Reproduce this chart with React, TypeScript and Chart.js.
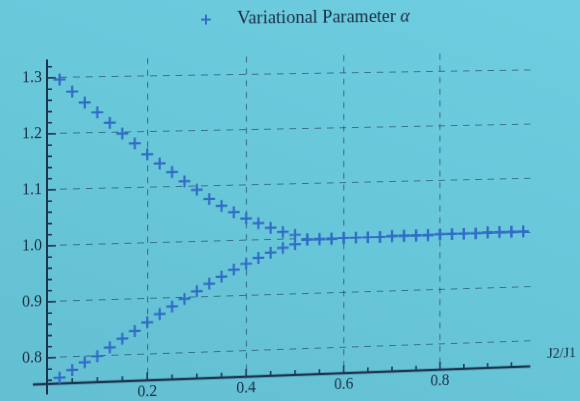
import { useEffect, useRef } from "react";
import { Chart, registerables } from "chart.js";

Chart.register(...registerables);

// Coupling ratio J2/J1 at which the variational energy was minimised
const couplingRatio = [
  0.025, 0.05, 0.075, 0.1, 0.125, 0.15, 0.175, 0.2, 0.225, 0.25,
  0.275, 0.3, 0.325, 0.35, 0.375, 0.4, 0.425, 0.45, 0.475, 0.5,
  0.525, 0.55, 0.575, 0.6, 0.625, 0.65, 0.675, 0.7, 0.725, 0.75,
  0.775, 0.8, 0.825, 0.85, 0.875, 0.9, 0.925, 0.95, 0.975,
];

// Two solutions for alpha below the merge point (first 20 ratios)
const upperBranch = [
  1.297, 1.275, 1.255, 1.237, 1.218, 1.198, 1.18, 1.16, 1.143, 1.127,
  1.11, 1.094, 1.077, 1.064, 1.052, 1.04, 1.031, 1.022, 1.014, 1.008,
];
const lowerBranch = [
  0.764, 0.777, 0.79, 0.8, 0.815, 0.83, 0.843, 0.858, 0.872, 0.885,
  0.898, 0.911, 0.924, 0.936, 0.948, 0.958, 0.968, 0.977, 0.985, 0.991,
];
// Single solution once the branches meet (remaining 19 ratios)
const mergedBranch = [
  0.999, 0.999, 0.999, 1.0, 1.0, 1.0, 1.0, 1.001, 1.001, 1.001,
  1.001, 1.002, 1.002, 1.002, 1.002, 1.003, 1.003, 1.003, 1.003,
];

const xTickValues = [0.2, 0.4, 0.6, 0.8];
const yTickValues = [0.8, 0.9, 1.0, 1.1, 1.2, 1.3];

const seriesName = "Variational Parameter ";
const seriesSymbol = "α";
const xAxisTitle = "J2/J1";

const X_MIN = 0;
const X_MAX = 0.99;
const Y_MIN = 0.7536;
const Y_MAX = 1.333;

const MARK_COLOR = "#2f6cc6";
const AXIS_COLOR = "#1c3550";
const TEXT_COLOR = "#172c40";
const GRID_COLOR = "rgba(28, 58, 84, 0.62)";
const SERIF = "'Liberation Serif', 'DejaVu Serif', serif";

function buildPoints() {
  const pts: { x: number; y: number }[] = [];
  couplingRatio.forEach((r, i) => {
    if (i < upperBranch.length) {
      pts.push({ x: r, y: upperBranch[i] });
      pts.push({ x: r, y: lowerBranch[i] });
    } else {
      const v = mergedBranch[i - upperBranch.length];
      pts.push({ x: r, y: v });
      pts.push({ x: r, y: v });
    }
  });
  return pts;
}

// Mathematica-style axes: crossing lines with inward major/minor ticks
const crossedAxes = {
  id: "crossedAxes",
  beforeDatasetsDraw(chart: any) {
    const { ctx } = chart;
    const xs = chart.scales.x;
    const ys = chart.scales.y;
    const x0 = xs.getPixelForValue(0);
    const yBase = ys.getPixelForValue(Y_MIN);
    ctx.save();
    ctx.strokeStyle = AXIS_COLOR;
    ctx.lineCap = "butt";

    ctx.lineWidth = 2.6;
    ctx.beginPath();
    ctx.moveTo(xs.getPixelForValue(-0.028), yBase);
    ctx.lineTo(xs.getPixelForValue(X_MAX), yBase);
    ctx.stroke();

    ctx.lineWidth = 2;
    ctx.beginPath();
    ctx.moveTo(x0, ys.getPixelForValue(0.735));
    ctx.lineTo(x0, ys.getPixelForValue(Y_MAX));
    ctx.stroke();

    ctx.lineWidth = 1.6;
    ctx.beginPath();
    for (let k = 1; k * 0.05 < X_MAX; k++) {
      const px = xs.getPixelForValue(k * 0.05);
      const len = k % 4 === 0 ? 8 : 5;
      ctx.moveTo(px, yBase);
      ctx.lineTo(px, yBase - len);
    }
    for (let k = 38; k <= 66; k++) {
      const py = ys.getPixelForValue(k * 0.02);
      const len = k % 5 === 0 ? 9 : 5;
      ctx.moveTo(x0, py);
      ctx.lineTo(x0 + len, py);
    }
    ctx.stroke();
    ctx.restore();
  },
  afterDraw(chart: any) {
    const { ctx } = chart;
    ctx.save();
    // legend entry
    ctx.strokeStyle = MARK_COLOR;
    ctx.lineWidth = 2;
    ctx.beginPath();
    ctx.moveTo(203, 21.5);
    ctx.lineTo(213, 21.5);
    ctx.moveTo(208, 16.5);
    ctx.lineTo(208, 26.5);
    ctx.stroke();

    ctx.fillStyle = TEXT_COLOR;
    ctx.textBaseline = "middle";
    ctx.textAlign = "left";
    ctx.font = `19px ${SERIF}`;
    ctx.fillText(seriesName, 240, 21);
    const w = ctx.measureText(seriesName).width;
    ctx.font = `italic 19px ${SERIF}`;
    ctx.fillText(seriesSymbol, 240 + w, 21);

    // axis title at the end of the horizontal axis
    ctx.font = `15px ${SERIF}`;
    ctx.fillText(xAxisTitle, 566, 372);
    ctx.restore();
  },
};

export default function App() {
  const canvasRef = useRef<HTMLCanvasElement>(null);

  useEffect(() => {
    const canvas = canvasRef.current;
    if (!canvas) return;
    const chart = new Chart(canvas, {
      type: "scatter",
      data: {
        datasets: [
          {
            label: seriesName + seriesSymbol,
            data: buildPoints(),
            pointStyle: "cross",
            pointRadius: 6,
            pointBorderWidth: 2.2,
            borderColor: MARK_COLOR,
            backgroundColor: MARK_COLOR,
            clip: false as any,
          },
        ],
      },
      options: {
        animation: false,
        responsive: false,
        devicePixelRatio: 1,
        layout: { padding: { top: 59.5, right: 72.3, bottom: 0, left: 0 } },
        plugins: {
          legend: { display: false },
          tooltip: { enabled: false },
        },
        scales: {
          x: {
            type: "linear",
            min: X_MIN,
            max: X_MAX,
            afterBuildTicks: (s: any) => {
              s.ticks = xTickValues.map((v) => ({ value: v }));
            },
            afterFit: (s: any) => {
              s.height = 36;
            },
            ticks: {
              padding: 2,
              color: TEXT_COLOR,
              font: { family: SERIF, size: 16 },
              callback: (v: any) => Number(v).toFixed(1),
            },
            grid: { color: GRID_COLOR, lineWidth: 1.1, drawTicks: false },
            border: { display: false, dash: [6, 6] },
          },
          y: {
            type: "linear",
            min: Y_MIN,
            max: Y_MAX,
            afterBuildTicks: (s: any) => {
              s.ticks = yTickValues.map((v) => ({ value: v }));
            },
            afterFit: (s: any) => {
              s.width = 47;
            },
            ticks: {
              padding: 5,
              color: TEXT_COLOR,
              font: { family: SERIF, size: 16 },
              callback: (v: any) => Number(v).toFixed(1),
            },
            grid: { color: GRID_COLOR, lineWidth: 1.1, drawTicks: false },
            border: { display: false, dash: [7, 6] },
          },
        },
      },
      plugins: [crossedAxes],
    });
    return () => chart.destroy();
  }, []);

  return (
    <div
      style={{
        position: "fixed",
        left: 0,
        top: 0,
        width: 580,
        height: 401,
        overflow: "hidden",
        background: "linear-gradient(200deg, #6fcde1 0%, #68c6d9 55%, #63bfd1 100%)",
      }}
    >
      <canvas
        ref={canvasRef}
        width={620}
        height={420}
        style={{
          display: "block",
          width: 620,
          height: 420,
          transformOrigin: "47px 200px",
          transform: "perspective(1000px) rotateY(3.86deg) skewY(-1.37deg)",
        }}
      />
    </div>
  );
}
